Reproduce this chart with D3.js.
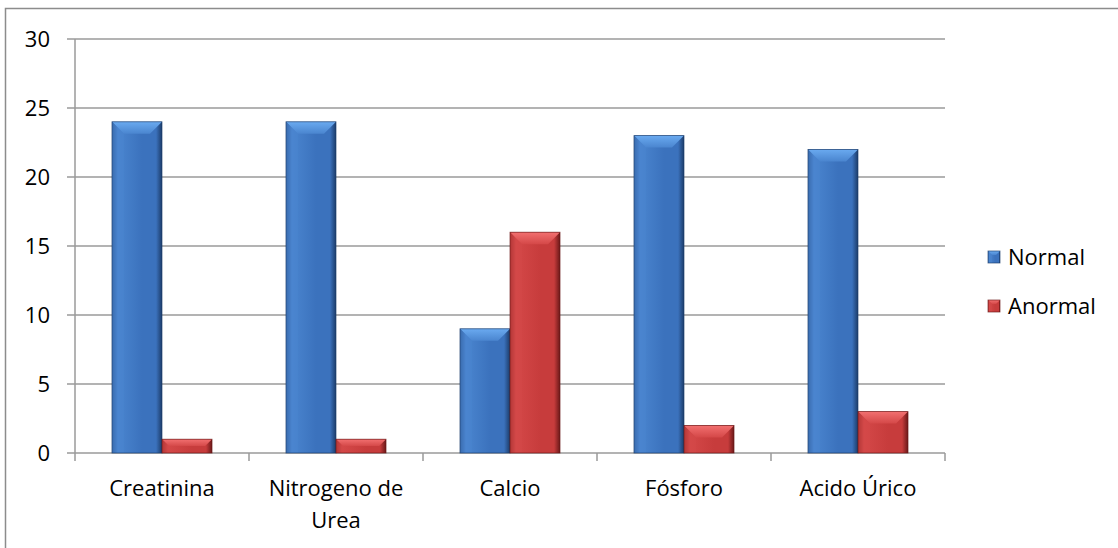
<!DOCTYPE html>
<html lang="es">
<head>
    <meta charset="UTF-8">
    <script src="https://cdn.jsdelivr.net/npm/d3@7"></script>
    <title>Resultados de laboratorio</title>
    <style>
        body { margin: 0; background: #fff; }
        text { font-family: "Open Sans", sans-serif; fill: #000; }
    </style>
</head>
<body>
<div id="chart"></div>
<script>
    // data
    const categories = [["Creatinina"], ["Nitrogeno de", "Urea"], ["Calcio"], ["Fósforo"], ["Acido Úrico"]];
    const normalValues = [24, 24, 9, 23, 22];
    const anormalValues = [1, 1, 16, 2, 3];
    const seriesNames = ["Normal", "Anormal"];
    const yTicks = [0, 5, 10, 15, 20, 25, 30];

    const width = 1118, height = 548;
    const plot = { left: 75, right: 945, top: 39, bottom: 453 };

    const svg = d3.select("#chart").append("svg")
        .attr("width", width)
        .attr("height", height);

    // colour sets per series: base, light bevel, dark edge
    const palette = [
        { base: "#3b72bd", light: "#6aaaf0", mid: "#4a85cf", dark: "#254d86", edge: "#1c3c6a" },
        { base: "#c73c3c", light: "#f27070", mid: "#d44848", dark: "#8c2222", edge: "#6a1818" }
    ];

    const defs = svg.append("defs");
    palette.forEach((c, i) => {
        const g = defs.append("linearGradient").attr("id", "body" + i)
            .attr("x1", 0).attr("x2", 1).attr("y1", 0).attr("y2", 0);
        g.append("stop").attr("offset", "0%").attr("stop-color", c.dark);
        g.append("stop").attr("offset", "12%").attr("stop-color", c.mid);
        g.append("stop").attr("offset", "60%").attr("stop-color", c.base);
        g.append("stop").attr("offset", "88%").attr("stop-color", c.base);
        g.append("stop").attr("offset", "100%").attr("stop-color", c.edge);
        const t = defs.append("linearGradient").attr("id", "top" + i)
            .attr("x1", 0).attr("x2", 0).attr("y1", 0).attr("y2", 1);
        t.append("stop").attr("offset", "0%").attr("stop-color", c.light);
        t.append("stop").attr("offset", "100%").attr("stop-color", c.mid);
    });

    // outer border
    svg.append("path")
        .attr("d", `M5.5,${height} V8.5 H${width}`)
        .attr("fill", "none")
        .attr("stroke", "#8c8c8c")
        .attr("stroke-width", 1.5);

    const x = d3.scaleBand()
        .domain(d3.range(categories.length))
        .range([plot.left, plot.right])
        .paddingInner(0.425)
        .paddingOuter(0.2125);

    const xSeries = d3.scaleBand()
        .domain(d3.range(seriesNames.length))
        .range([0, x.bandwidth()]);

    const y = d3.scaleLinear()
        .domain([0, 30])
        .range([plot.bottom, plot.top]);

    // gridlines
    svg.append("g").selectAll("line")
        .data(yTicks)
        .enter().append("line")
        .attr("x1", plot.left - 8)
        .attr("x2", plot.right)
        .attr("y1", d => y(d))
        .attr("y2", d => y(d))
        .attr("stroke", "#9a9a9a")
        .attr("stroke-width", 1.5);

    // y axis line
    svg.append("line")
        .attr("x1", plot.left).attr("x2", plot.left)
        .attr("y1", plot.top).attr("y2", plot.bottom)
        .attr("stroke", "#9a9a9a").attr("stroke-width", 1.5);

    // category ticks
    const step = (plot.right - plot.left) / categories.length;
    svg.append("g").selectAll("line")
        .data(d3.range(categories.length + 1))
        .enter().append("line")
        .attr("x1", d => plot.left + d * step)
        .attr("x2", d => plot.left + d * step)
        .attr("y1", plot.bottom)
        .attr("y2", plot.bottom + 8)
        .attr("stroke", "#9a9a9a").attr("stroke-width", 1.5);

    // y labels
    svg.append("g").selectAll("text")
        .data(yTicks)
        .enter().append("text")
        .attr("x", 50)
        .attr("y", d => y(d))
        .attr("dy", "0.36em")
        .attr("text-anchor", "end")
        .style("font-size", "22px")
        .text(d => d);

    // bars with a bevel look
    const drawBar = (g, bx, by, bw, bh, s, bev) => {
        const b = Math.min(bev, bh / 2, bw / 2);
        g.append("rect")
            .attr("x", bx).attr("y", by)
            .attr("width", bw).attr("height", bh)
            .attr("fill", `url(#body${s})`);
        g.append("path")
            .attr("d", `M${bx},${by} H${bx + bw} L${bx + bw - b},${by + b} H${bx + b} Z`)
            .attr("fill", `url(#top${s})`);
        g.append("path")
            .attr("d", `M${bx},${by} L${bx + b},${by + b} V${by + bh} H${bx} Z`)
            .attr("fill", palette[s].mid).attr("opacity", 0.55);
        g.append("rect")
            .attr("x", bx).attr("y", by)
            .attr("width", bw).attr("height", bh)
            .attr("fill", "none")
            .attr("stroke", palette[s].edge).attr("stroke-width", 0.8).attr("opacity", 0.8);
    };

    const bars = svg.append("g");
    [normalValues, anormalValues].forEach((vals, s) => {
        vals.forEach((v, i) => {
            const bx = x(i) + xSeries(s);
            drawBar(bars, bx, y(v), xSeries.bandwidth(), y(0) - y(v), s, 12);
        });
    });

    // category labels
    const labels = svg.append("g").selectAll("text")
        .data(categories)
        .enter().append("text")
        .attr("x", (d, i) => x(i) + x.bandwidth() / 2)
        .attr("y", 496)
        .attr("text-anchor", "middle")
        .style("font-size", "22px");
    labels.selectAll("tspan")
        .data(d => d)
        .enter().append("tspan")
        .attr("x", function () { return d3.select(this.parentNode).attr("x"); })
        .attr("dy", (d, j) => j === 0 ? 0 : 32)
        .text(d => d);

    // legend
    const legend = svg.append("g");
    seriesNames.forEach((name, s) => {
        const ly = 257 + s * 49;
        drawBar(legend, 988, ly - 6, 12, 12, s, 4);
        legend.append("text")
            .attr("x", 1008)
            .attr("y", ly)
            .attr("dy", "0.36em")
            .style("font-size", "22px")
            .text(name);
    });
</script>
</body>
</html>
